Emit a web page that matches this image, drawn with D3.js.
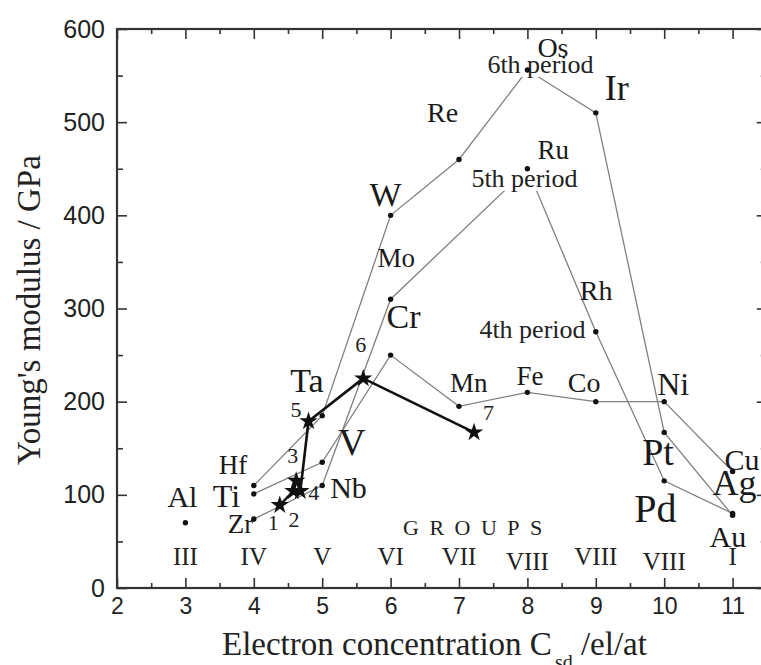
<!DOCTYPE html>
<html><head><meta charset="utf-8">
<script src="https://cdn.jsdelivr.net/npm/d3@7"></script>
<style>body{margin:0;background:#fff}svg{display:block}</style>
</head><body><svg id="chart" width="761" height="665"></svg>
<script>
// Young's modulus of the transition metals against electron concentration C_sd,
// with the three periods joined by thin lines and an alloy series (stars) on top.

const xTicks = [2, 3, 4, 5, 6, 7, 8, 9, 10, 11];
const yTicks = [0, 100, 200, 300, 400, 500, 600];

const period4Names = ["Ti", "V", "Cr", "Mn", "Fe", "Co", "Ni", "Cu"];
const period4C = [4, 5, 6, 7, 8, 9, 10, 11];
const period4E = [101, 135, 250, 195, 210, 200, 200, 125];

const period5Names = ["Zr", "Nb", "Mo", "Ru", "Rh", "Pd", "Ag"];
const period5C = [4, 5, 6, 8, 9, 10, 11];
const period5E = [74, 110, 310, 450, 275, 115, 80];

const period6Names = ["Hf", "Ta", "W", "Re", "Os", "Ir", "Pt", "Au"];
const period6C = [4, 5, 6, 7, 8, 9, 10, 11];
const period6E = [110, 185, 400, 460, 556, 510, 167, 78];

const singleNames = ["Al"];
const singleC = [3];
const singleE = [70];

const alloyNames = ["1", "2", "3", "4", "5", "6", "7"];
const alloyC = [4.38, 4.58, 4.62, 4.68, 4.8, 5.6, 7.22];
const alloyE = [89, 104, 115, 104, 179, 225, 167];

const groupNames = ["III", "IV", "V", "VI", "VII", "VIII", "VIII", "VIII", "I"];
const groupC = [3, 4, 5, 6, 7, 8, 9, 10, 11];

const periodNames = ["6th period", "5th period", "4th period"];

// ---- layout (pixel offsets of labels from their points, sizes) ----
const elementLabelLayout = {
  Hf: [-35, -12, 27], Ta: [-32, -24, 34], W: [-21, -9, 34], Re: [-32, -37, 28],
  Os: [10, -13, 28], Ir: [9, -13, 36], Pt: [-22, 33, 38], Au: [-23, 32, 30],
  Zr: [-26, 14, 27], Nb: [8, 12, 30], Mo: [-13, -32, 27], Ru: [10, -10, 27],
  Rh: [-16, -32, 28], Pd: [-30, 41, 40], Ag: [-20, -18, 36],
  Ti: [-41, 13, 32], V: [16, -7, 38], Cr: [-4, -27, 34], Mn: [-9, -14, 27],
  Fe: [-11, -7, 27], Co: [-28, -10, 28], Ni: [-7, -7, 32], Cu: [-8, -2, 30],
  Al: [-18, -16, 30]
};
const alloyLabelLayout = {
  "1": [-12, 25], "2": [-5, 36], "3": [-9, -18], "4": [8, 9],
  "5": [-18, -4], "6": [-8, -26], "7": [9, -12]
};
// period labels: anchored on Os, Ru and Fe
const periodLabelLayout = [
  { anchor: "Os", dx: -40, dy: 3 },
  { anchor: "Ru", dx: -56, dy: 18 },
  { anchor: "Fe", dx: -48, dy: -54 }
];
const groupLift = { VIII8: 18, VIII10: 18 };

const serif = "'Liberation Serif','Times New Roman',Times,serif";
const sans = "'Liberation Sans',Arial,Helvetica,sans-serif";

const svg = d3.select("#chart");
const plotLeft = 117, plotRight = 766.8, plotTop = 29, plotBottom = 588;

const x = d3.scaleLinear().domain([2, 11.5]).range([plotLeft, plotRight]);
const y = d3.scaleLinear().domain([0, 600]).range([plotBottom, plotTop]);

// ---- axes ----
const xMinor = d3.range(2.5, 11.5, 1);
const yMinor = d3.range(50, 600, 100);

function styleAxis(size) {
  return g => {
    g.select(".domain").remove();
    g.selectAll(".tick line").attr("stroke", "#333").attr("stroke-width", 1.6);
    g.selectAll("text").attr("font-family", sans).attr("font-size", size).attr("fill", "#222");
  };
}

svg.append("g").attr("transform", `translate(0,${plotBottom})`)
  .call(d3.axisBottom(x).tickValues(xTicks).tickSize(-10).tickSizeOuter(0).tickPadding(10).tickFormat(d3.format("d")))
  .call(styleAxis(23));
svg.append("g").attr("transform", `translate(0,${plotBottom})`)
  .call(d3.axisBottom(x).tickValues(xMinor).tickSize(-5).tickSizeOuter(0).tickFormat(""))
  .call(styleAxis(23));
svg.append("g").attr("transform", `translate(0,${plotTop})`)
  .call(d3.axisTop(x).tickValues(xTicks).tickSize(-10).tickSizeOuter(0).tickFormat(""))
  .call(styleAxis(23));
svg.append("g").attr("transform", `translate(0,${plotTop})`)
  .call(d3.axisTop(x).tickValues(xMinor).tickSize(-5).tickSizeOuter(0).tickFormat(""))
  .call(styleAxis(23));
svg.append("g").attr("transform", `translate(${plotLeft},0)`)
  .call(d3.axisLeft(y).tickValues(yTicks).tickSize(-10).tickSizeOuter(0).tickPadding(12))
  .call(styleAxis(25));
svg.append("g").attr("transform", `translate(${plotLeft},0)`)
  .call(d3.axisLeft(y).tickValues(yMinor).tickSize(-6).tickSizeOuter(0).tickFormat(""))
  .call(styleAxis(25));
svg.append("g").attr("transform", `translate(${plotRight},0)`)
  .call(d3.axisRight(y).tickValues(yTicks).tickSize(-10).tickSizeOuter(0).tickFormat(""))
  .call(styleAxis(25));
svg.append("g").attr("transform", `translate(${plotRight},0)`)
  .call(d3.axisRight(y).tickValues(yMinor).tickSize(-6).tickSizeOuter(0).tickFormat(""))
  .call(styleAxis(25));

svg.append("rect")
  .attr("x", plotLeft).attr("y", plotTop)
  .attr("width", plotRight - plotLeft).attr("height", plotBottom - plotTop)
  .attr("fill", "none").attr("stroke", "#333").attr("stroke-width", 2.2);

// ---- axis titles ----
const xTitle = svg.append("text")
  .attr("x", 222).attr("y", 655)
  .attr("font-family", serif).attr("font-size", 33).attr("fill", "#222");
xTitle.append("tspan").text("Electron concentration C");
xTitle.append("tspan").attr("dx", 3).attr("dy", 14).attr("font-size", 20).text("sd");
xTitle.append("tspan").attr("dy", -14).text(" /el/at");

svg.append("text")
  .attr("transform", "translate(40,310) rotate(-90)")
  .attr("text-anchor", "middle")
  .attr("font-family", serif).attr("font-size", 33).attr("fill", "#222")
  .text("Young's modulus / GPa");

// ---- series ----
const zip = (names, c, e) => names.map((n, i) => ({ name: n, c: c[i], e: e[i] }));
const period4 = zip(period4Names, period4C, period4E);
const period5 = zip(period5Names, period5C, period5E);
const period6 = zip(period6Names, period6C, period6E);
const singles = zip(singleNames, singleC, singleE);
const alloys = zip(alloyNames, alloyC, alloyE);
const groups = groupNames.map((g, i) => ({ name: g, c: groupC[i] }));

const line = d3.line().x(d => x(d.c)).y(d => y(d.e));

[period4, period5, period6].forEach(s => {
  svg.append("path").datum(s).attr("d", line)
    .attr("fill", "none").attr("stroke", "#808080").attr("stroke-width", 1.3);
});

svg.append("path").datum(alloys).attr("d", line)
  .attr("fill", "none").attr("stroke", "#111").attr("stroke-width", 2.6)
  .attr("stroke-linejoin", "round");

// period labels with a white backing
const allPoints = [...period4, ...period5, ...period6];
periodNames.forEach((label, i) => {
  const L = periodLabelLayout[i];
  const p = allPoints.find(d => d.name === L.anchor);
  const t = svg.append("text")
    .attr("x", x(p.c) + L.dx).attr("y", y(p.e) + L.dy)
    .attr("font-family", serif).attr("font-size", 26).attr("fill", "#222")
    .text(label);
  const bb = t.node().getBBox();
  svg.insert("rect", () => t.node())
    .attr("x", bb.x).attr("y", bb.y + 4).attr("width", bb.width).attr("height", bb.height - 6)
    .attr("fill", "#fff");
});

// element labels
[...allPoints, ...singles].forEach(d => {
  const [dx, dy, fs] = elementLabelLayout[d.name];
  svg.append("text")
    .attr("x", x(d.c) + dx).attr("y", y(d.e) + dy)
    .attr("font-family", serif).attr("font-size", fs).attr("fill", "#1a1a1a")
    .text(d.name);
});

// alloy labels
alloys.forEach(d => {
  const [dx, dy] = alloyLabelLayout[d.name];
  svg.append("text")
    .attr("x", x(d.c) + dx).attr("y", y(d.e) + dy)
    .attr("font-family", serif).attr("font-size", 22).attr("fill", "#222")
    .text(d.name);
});

// dots
svg.append("g").selectAll("circle").data([...allPoints, ...singles]).join("circle")
  .attr("cx", d => x(d.c)).attr("cy", d => y(d.e)).attr("r", 2.7).attr("fill", "#111");

// stars
const star = d3.symbol().type(d3.symbolStar).size(105);
svg.append("g").selectAll("path").data(alloys).join("path")
  .attr("transform", d => `translate(${x(d.c)},${y(d.e)})`)
  .attr("d", star).attr("fill", "#111");

// groups
groups.forEach(g => {
  const key = g.name + g.c;
  const lift = groupLift[key] !== undefined ? groupLift[key] : 23;
  svg.append("text")
    .attr("x", x(g.c)).attr("y", y(0) - lift)
    .attr("text-anchor", "middle")
    .attr("font-family", serif).attr("font-size", 25).attr("fill", "#222")
    .text(g.name);
});
svg.append("text")
  .attr("x", 403).attr("y", 535)
  .attr("font-family", serif).attr("font-size", 22).attr("letter-spacing", 10.5)
  .attr("fill", "#222")
  .text("GROUPS");
</script>
</body></html>
